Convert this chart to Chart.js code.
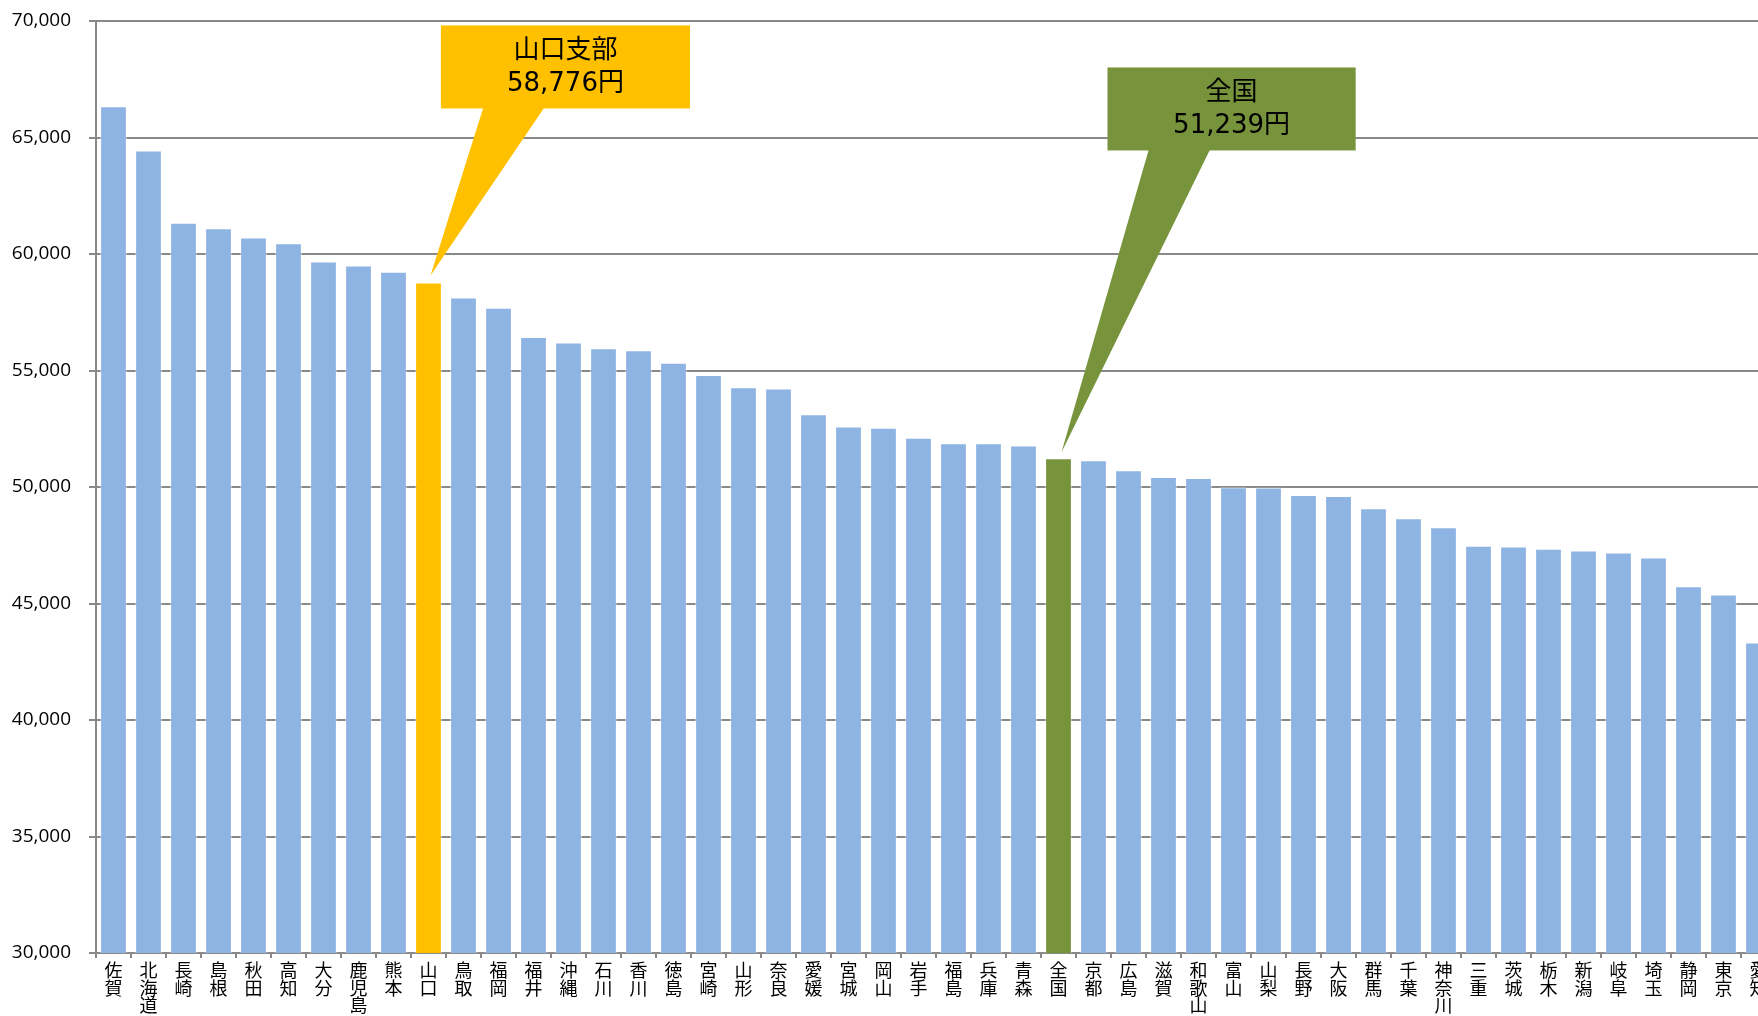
<!DOCTYPE html>
<html>
<head>
<meta charset="utf-8">
<script src="https://cdn.jsdelivr.net/npm/chart.js@4.4.1/dist/chart.umd.min.js"></script>
<style>
  html, body { margin: 0; padding: 0; background: #fff; overflow: hidden; }
  #wrap { position: absolute; left: 0; top: 0; width: 1776px; height: 1016px; }
</style>
</head>
<body>
<div id="wrap"><canvas id="chart"></canvas></div>
<script>
// 都道府県別（＋全国）
const categories = ['佐賀', '北海道', '長崎', '島根', '秋田', '高知', '大分', '鹿児島', '熊本', '山口',
  '鳥取', '福岡', '福井', '沖縄', '石川', '香川', '徳島', '宮崎', '山形', '奈良',
  '愛媛', '宮城', '岡山', '岩手', '福島', '兵庫', '青森', '全国', '京都', '広島',
  '滋賀', '和歌山', '富山', '山梨', '長野', '大阪', '群馬', '千葉', '神奈川', '三重',
  '茨城', '栃木', '新潟', '岐阜', '埼玉', '静岡', '東京', '愛知'];

const values = [66345, 64444, 61340, 61110, 60710, 60465, 59680, 59510, 59240, 58776,
  58134, 57692, 56441, 56200, 55960, 55864, 55336, 54807, 54278, 54230,
  53124, 52595, 52547, 52114, 51874, 51874, 51778, 51239, 51153, 50720,
  50432, 50384, 49990, 49980, 49660, 49610, 49085, 48661, 48275, 47477,
  47447, 47348, 47275, 47189, 46975, 45743, 45387, 43327];

const yTicks = [30000, 35000, 40000, 45000, 50000, 55000, 60000, 65000, 70000];

const branchName = '山口';
const nationName = '全国';

const BLUE = '#8EB4E3';
const YELLOW = '#FFC000';
const GREEN = '#77933C';
const GRID = '#898989';

// 吹き出し（箱はカテゴリ番号と値で位置決め、先端は棒の上端）
const callouts = [
  { target: branchName, lines: ['山口支部', '58,776円'], color: YELLOW,
    box: { x1: 9.354, x2: 16.472, top: 69810, bottom: 66246 }, base: [10.567, 12.31], tip: [2, -7] },
  { target: nationName, lines: ['全国', '51,239円'], color: GREEN,
    box: { x1: 28.40, x2: 35.49, top: 68006, bottom: 64444 }, base: [29.58, 31.33], tip: [3, -6] }
];

const calloutPlugin = {
  id: 'callouts',
  afterDatasetsDraw(chart) {
    const ctx = chart.ctx;
    const x = chart.scales.x, y = chart.scales.y;
    const bars = chart.getDatasetMeta(0).data;
    callouts.forEach(c => {
      const i = categories.indexOf(c.target);
      const bar = bars[i];
      const left = x.getPixelForValue(c.box.x1), right = x.getPixelForValue(c.box.x2);
      const top = y.getPixelForValue(c.box.top), bottom = y.getPixelForValue(c.box.bottom);
      const tx = bar.x + c.tip[0], ty = bar.y + c.tip[1];
      ctx.save();
      ctx.fillStyle = c.color;
      ctx.beginPath();
      ctx.moveTo(x.getPixelForValue(c.base[0]), bottom - 1);
      ctx.lineTo(tx, ty);
      ctx.lineTo(x.getPixelForValue(c.base[1]), bottom - 1);
      ctx.closePath();
      ctx.fill();
      ctx.fillRect(left, top, right - left, bottom - top);
      ctx.fillStyle = '#000';
      ctx.font = "26px 'DejaVu Sans', 'Noto Sans CJK JP'";
      ctx.textAlign = 'center';
      ctx.textBaseline = 'middle';
      const cx = (left + right) / 2, cy = (top + bottom) / 2;
      ctx.fillText(c.lines[0], cx, cy - 16);
      ctx.fillText(c.lines[1], cx, cy + 17);
      ctx.restore();
    });
  }
};

const barColors = categories.map(c => c === branchName ? YELLOW : (c === nationName ? GREEN : BLUE));

new Chart(document.getElementById('chart').getContext('2d'), {
  type: 'bar',
  data: {
    labels: categories,
    datasets: [{
      data: values,
      backgroundColor: barColors,
      borderColor: 'rgba(255,255,255,0.45)',
      borderWidth: 1,
      barPercentage: 0.765,
      categoryPercentage: 1.0
    }]
  },
  options: {
    responsive: true,
    maintainAspectRatio: false,
    animation: false,
    events: [],
    layout: { padding: { top: 21, left: 0, right: 0, bottom: 2 } },
    plugins: {
      legend: { display: false },
      tooltip: { enabled: false }
    },
    scales: {
      x: {
        // 軸の高さを固定（ラベル3行分）
        afterFit: s => { s.height = 61; s.paddingLeft = 0; s.paddingRight = 0; },
        grid: { display: true, drawOnChartArea: false, drawTicks: true, tickLength: 5, color: GRID, lineWidth: 2, offset: true },
        border: { display: true, color: GRID, width: 2 },
        ticks: {
          autoSkip: false,
          maxRotation: 0,
          minRotation: 0,
          padding: 4,
          color: '#000',
          font: { family: "'Noto Sans CJK JP'", size: 18, lineHeight: 0.96 },
          callback: function (value) { return this.getLabelForValue(value).split(''); }
        }
      },
      y: {
        min: 30000,
        max: 70000,
        afterBuildTicks: scale => { scale.ticks = yTicks.map(v => ({ value: v })); },
        afterFit: s => { s.width = 96; s.paddingTop = 0; s.paddingBottom = 0; },
        grid: { color: GRID, lineWidth: 2, tickLength: 7 },
        border: { display: true, color: GRID, width: 2 },
        ticks: {
          padding: 18,
          color: '#000',
          font: { family: "'Open Sans'", size: 19 },
          callback: v => v.toLocaleString('en-US')
        }
      }
    }
  },
  plugins: [calloutPlugin]
});
</script>
</body>
</html>
